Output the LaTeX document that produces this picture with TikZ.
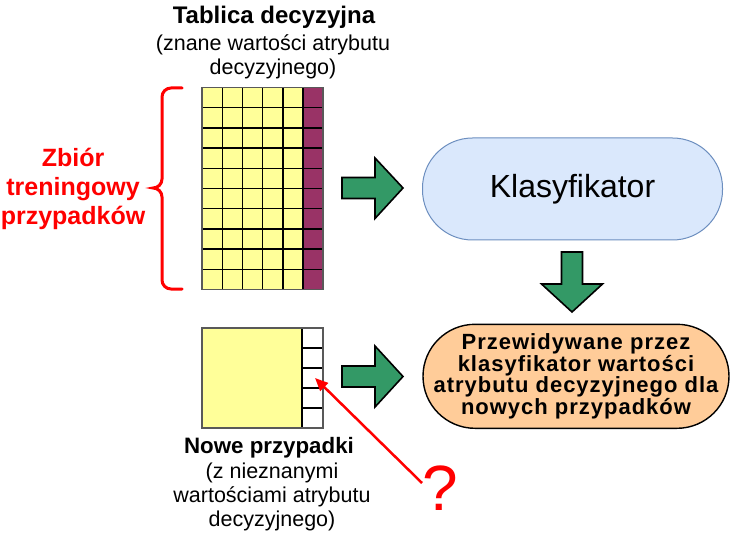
\documentclass[tikz,border=0pt]{standalone}
\usepackage{fontspec}
\setmainfont{Liberation Sans}
\usetikzlibrary{arrows.meta}

\definecolor{cellyellow}{HTML}{FFFF99}
\definecolor{cellpurple}{HTML}{993366}
\definecolor{arrowgreen}{HTML}{339966}
\definecolor{boxblue}{HTML}{DAE8FC}
\definecolor{lineblue}{HTML}{6C8EBF}
\definecolor{boxorange}{HTML}{FFCC99}

\tikzset{
  yellowcell/.style={fill=cellyellow, draw=black, line width=1.4pt},
  purplecell/.style={fill=cellpurple, draw=black, line width=1.4pt},
  whitecell/.style={fill=white, draw=black, line width=1.4pt},
  frame/.style={draw=black!65, line width=1.8pt},
  greenarrow/.style={fill=arrowgreen, draw=black, line width=1.6pt, line join=miter},
  pill/.style={rectangle, rounded corners=50pt, minimum width=300pt, minimum height=102pt, inner sep=0pt},
  headtext/.style={font=\bfseries\fontsize{24}{26}\selectfont},
  notetext/.style={font=\fontsize{21.5}{24}\selectfont, align=center},
  redtext/.style={text=red, font=\bfseries\fontsize{25}{29}\selectfont, align=center}
}

\begin{document}
\begin{tikzpicture}[x=1pt,y=-1pt]
\useasboundingbox (0,0) rectangle (733,537);
\coordinate (qstart) at (422,483);
\coordinate (celltip) at (315,378);
% draws decision table
\foreach \i in {0,...,4} {
  \foreach \j in {0,...,9} {
    \draw[yellowcell] (202+\i*20.2,87.5+\j*20.2) rectangle ++(20.2,20.2);
  }
}
\foreach \j in {0,...,9} {
  \draw[purplecell] (303,87.5+\j*20.2) rectangle ++(20.2,20.2);
}
\draw[frame] (202,87.5) rectangle (323.2,289.5);
% draws new cases
\draw[yellowcell] (202,328) rectangle (302,428);
\foreach \j in {0,...,4} {
  \draw[whitecell] (302,328+\j*20) rectangle ++(21,20);
}
\draw[frame] (202,328) rectangle (323,428);
% draws brace
\draw[red, line width=3pt, line cap=round] (182,88) -- (171,88) to[out=180,in=90] (162,97)
  -- (162,179) to[out=-90,in=0] (153,188) to[out=0,in=90] (162,197)
  -- (162,280) to[out=-90,in=180] (171,289) -- (182,289);
% draws block arrows
\draw[greenarrow] (342,177.5) -- (375,177.5) -- (375,158) -- (403,188)
  -- (375,218.5) -- (375,198.5) -- (342,198.5) -- cycle;
\draw[greenarrow] (342,366) -- (375,366) -- (375,346) -- (403,376.5)
  -- (375,407) -- (375,387) -- (342,387) -- cycle;
\draw[greenarrow] (561.5,252) -- (561.5,284) -- (541.5,284) -- (572,312)
  -- (602.5,284) -- (582.5,284) -- (582.5,252) -- cycle;
% draws boxes
\node[pill, fill=boxblue, draw=lineblue, line width=1pt] (klasyfikator) at (572.5,189)
  {\fontsize{32}{36}\selectfont Klasyfikator};
\node[pill, fill=boxorange, draw=black, line width=1.4pt, minimum width=306pt, minimum height=104pt,
  rounded corners=52pt, align=center,
  font=\bfseries\fontsize{22}{18.3}\selectfont\addfontfeature{LetterSpace=4.5}] (wynik) at (576,376.3)
  {Przewidywane przez\\ klasyfikator wartości\\ atrybutu decyzyjnego dla\\ nowych przypadków};
% labels
\node[headtext] (title) at (274,17) {Tablica decyzyjna};
\node[notetext] (titlenote) at (273,56.5) {(znane wartości atrybutu\\ decyzyjnego)};
\node[redtext] (zbior) at (73,189) {Zbiór\\ treningowy\\ przypadków};
\node[headtext, font=\bfseries\fontsize{22.3}{24}\selectfont] (nowe) at (269,448) {Nowe przypadki};
\node[notetext] (nowenote) at (272,497) {(z nieznanymi\\ wartościami atrybutu\\ decyzyjnego)};
\node[text=red, font=\fontsize{64}{64}\selectfont, inner sep=0pt] (pytanie) at (440,488) {?};
% draws red arrow
\draw[red, line width=2.5pt, -{Triangle[length=13pt,width=11pt]}] (qstart) -- (celltip);
\end{tikzpicture}
\end{document}
